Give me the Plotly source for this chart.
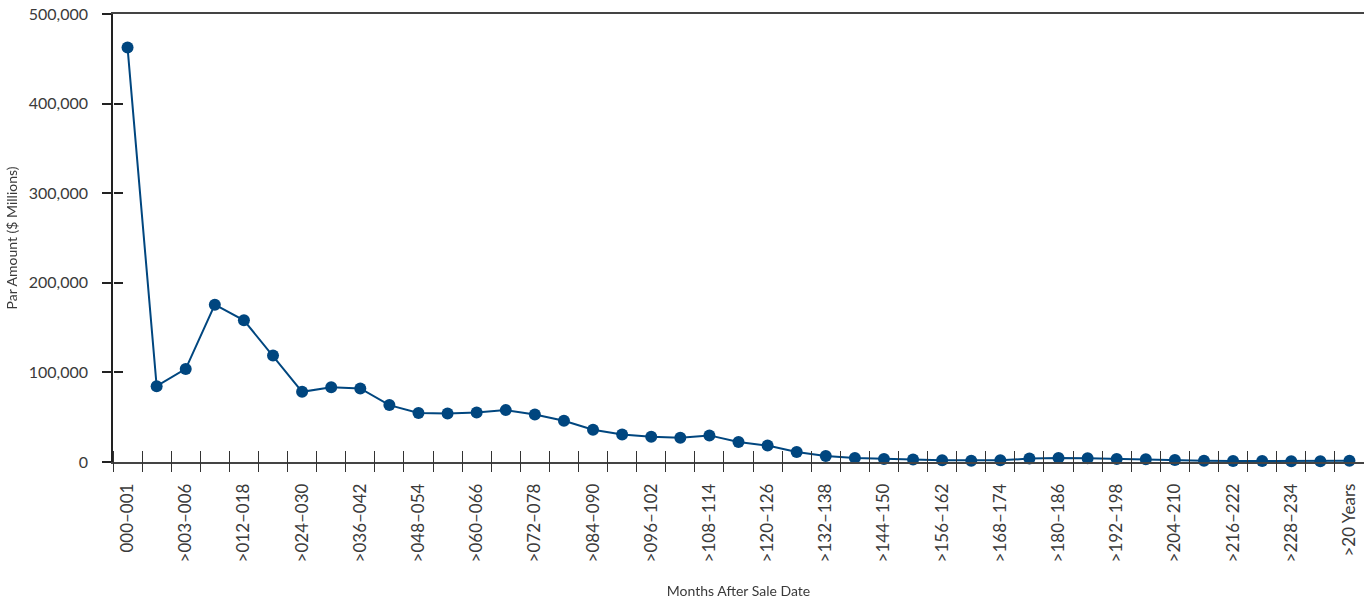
import plotly.graph_objects as go

categories = [
    "000–001", ">001–003", ">003–006", ">006–012", ">012–018", ">018–024",
    ">024–030", ">030–036", ">036–042", ">042–048", ">048–054", ">054–060",
    ">060–066", ">066–072", ">072–078", ">078–084", ">084–090", ">090–096",
    ">096–102", ">102–108", ">108–114", ">114–120", ">120–126", ">126–132",
    ">132–138", ">138–144", ">144–150", ">150–156", ">156–162", ">162–168",
    ">168–174", ">174–180", ">180–186", ">186–192", ">192–198", ">198–204",
    ">204–210", ">210–216", ">216–222", ">222–228", ">228–234", ">234–240",
    ">20 Years",
]

par_amount = [
    462500, 84600, 103900, 175600, 158100, 118800,
    78300, 83500, 82100, 63500, 54600, 54200,
    55300, 57900, 53100, 46000, 36000, 30800,
    28200, 27100, 29700, 22400, 18300, 11100,
    6700, 4500, 3300, 2700, 1900, 1500,
    1900, 3800, 4500, 4100, 3300, 3000,
    2200, 1500, 1100, 1100, 800, 800,
    1500,
]

y_tick_values = [0, 100000, 200000, 300000, 400000, 500000]
y_tick_labels = ["0", "100,000", "200,000", "300,000", "400,000", "500,000"]
y_tick_step = 100000

x_idx = list(range(len(categories)))
label_idx = x_idx[::2]
label_text = [categories[i] for i in label_idx]

FONT = "Lato"
TXT = "#3a3a3a"
LINE = "#00467F"
YMAX = 500000
XR = [-0.5, len(categories) - 0.5]

fig = go.Figure()
fig.add_trace(go.Scatter(
    x=x_idx, y=par_amount, mode="lines+markers",
    line=dict(color=LINE, width=2),
    marker=dict(color=LINE, size=12),
    hoverinfo="skip", showlegend=False, cliponaxis=False,
))
# invisible trace to activate tick-only overlay axes
fig.add_trace(go.Scatter(
    x=x_idx, y=par_amount, mode="markers", opacity=0,
    xaxis="x2", yaxis="y2", hoverinfo="skip", showlegend=False,
))

fig.update_layout(
    width=1364, height=608,
    margin=dict(l=113, r=0, t=14, b=146, autoexpand=False),
    paper_bgcolor="white", plot_bgcolor="white",
    font=dict(family=FONT, color=TXT, size=16),
    xaxis=dict(
        range=XR, tickmode="array", tickvals=label_idx, ticktext=label_text,
        tickangle=-90, ticks="", ticklabelstandoff=13, automargin=False,
        showgrid=False, zeroline=False,
        showline=True, linecolor="#444", linewidth=1.5, mirror=True,
        tickfont=dict(family=FONT, size=17, color=TXT),
        title=dict(text="Months After Sale Date", standoff=25,
                   font=dict(family=FONT, size=14, color=TXT)),
    ),
    yaxis=dict(
        range=[0, YMAX], tickmode="array", tickvals=y_tick_values,
        ticktext=y_tick_labels, ticks="outside", ticklen=9, tickwidth=1.5,
        tickcolor="#222", ticklabelstandoff=11, automargin=False,
        showgrid=False, zeroline=False,
        showline=True, linecolor="#222", linewidth=1.5,
        tickfont=dict(family=FONT, size=16, color=TXT),
        title=dict(text="Par Amount ($ Millions)", standoff=8,
                   font=dict(family=FONT, size=14, color=TXT)),
    ),
    xaxis2=dict(
        overlaying="x", anchor="free", position=12 / 448, automargin=False,
        range=XR, tickmode="linear", tick0=-0.5, dtick=1,
        ticks="outside", ticklen=21, tickwidth=1.4, tickcolor="#333",
        showticklabels=False, showgrid=False, zeroline=False, showline=False,
    ),
    yaxis2=dict(
        overlaying="y", anchor="free", position=0, side="left",
        automargin=False, range=[0, YMAX],
        tickmode="linear", tick0=0, dtick=y_tick_step,
        ticks="inside", ticklen=9, tickwidth=1.5, tickcolor="#222",
        showticklabels=False, showgrid=False, zeroline=False, showline=False,
    ),
)

fig.write_html(
    "out.html",
    config={"displayModeBar": False},
    post_script="document.body.style.margin='0';document.body.style.overflow='hidden';",
)
